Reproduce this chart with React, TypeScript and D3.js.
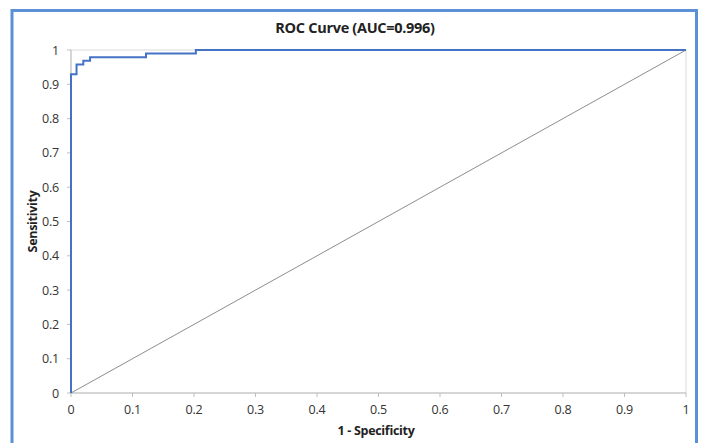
import React from "react";
import * as d3 from "d3";

const fpr = [0, 0, 0.009, 0.009, 0.02, 0.02, 0.031, 0.031, 0.122, 0.122, 0.203, 0.203, 1];
const tpr = [0, 0.929, 0.929, 0.958, 0.958, 0.969, 0.969, 0.979, 0.979, 0.99, 0.99, 1, 1];
const ticks = [0, 0.1, 0.2, 0.3, 0.4, 0.5, 0.6, 0.7, 0.8, 0.9, 1];
const title = "ROC Curve (AUC=0.996)";
const xTitle = "1 - Specificity";
const yTitle = "Sensitivity";

export default function App() {
  const W = 703, H = 443;
  const left = 71, right = 686, top = 50, bottom = 393;
  const x = d3.scaleLinear().domain([0, 1]).range([left, right]);
  const y = d3.scaleLinear().domain([0, 1]).range([bottom, top]);
  const pts: [number, number][] = fpr.map((f, i) => [f, tpr[i]]);
  const line = d3.line<[number, number]>().x(d => x(d[0])).y(d => y(d[1]));
  const font = "'Open Sans', 'Noto Sans', sans-serif";
  const fmt = (v: number) => String(v);
  return (
    <svg width={W} height={H} style={{ position: "absolute", left: 0, top: 0, background: "#fff" }} fontFamily={font}>
      <rect x={0} y={0} width={W} height={H} fill="#fff" />
      <rect x={12} y={10.5} width={684.5} height={445} fill="#fff" stroke="#5b8fd6" strokeWidth={3} />
      <text x={355} y={33} textAnchor="middle" fontSize={14.5} fontWeight="bold" fill="#222" letterSpacing={-0.3}>{title}</text>
      <rect x={left} y={top} width={right - left} height={bottom - top} fill="none" stroke="#d9d9d9" strokeWidth={1} />
      <line x1={left} x2={right} y1={bottom} y2={bottom} stroke="#bfbfbf" />
      <line x1={left} x2={left} y1={top} y2={bottom} stroke="#bfbfbf" />
      {ticks.map(t => (
        <g key={"x" + t}>
          <line x1={x(t)} x2={x(t)} y1={bottom} y2={bottom + 4} stroke="#bfbfbf" />
          <text x={x(t)} y={bottom + 21} textAnchor="middle" fontSize={12.5} fill="#333" letterSpacing={-0.2}>{fmt(t)}</text>
        </g>
      ))}
      {ticks.map(t => (
        <g key={"y" + t}>
          <line x1={left - 4} x2={left} y1={y(t)} y2={y(t)} stroke="#bfbfbf" />
          <text x={left - 12} y={y(t) + 4.5} textAnchor="end" fontSize={12.5} fill="#333" letterSpacing={-0.2}>{fmt(t)}</text>
        </g>
      ))}
      <line x1={x(0)} y1={y(0)} x2={x(1)} y2={y(1)} stroke="#808080" strokeWidth={0.9} />
      <path d={line(pts) || ""} fill="none" stroke="#4472c4" strokeWidth={2} />
      <text x={376} y={435} textAnchor="middle" fontSize={12.5} fontWeight="bold" fill="#222" letterSpacing={-0.3}>{xTitle}</text>
      <text transform={`translate(37, ${(top + bottom) / 2}) rotate(-90)`} textAnchor="middle" fontSize={12.5} fontWeight="bold" fill="#222" letterSpacing={-0.3}>{yTitle}</text>
    </svg>
  );
}
